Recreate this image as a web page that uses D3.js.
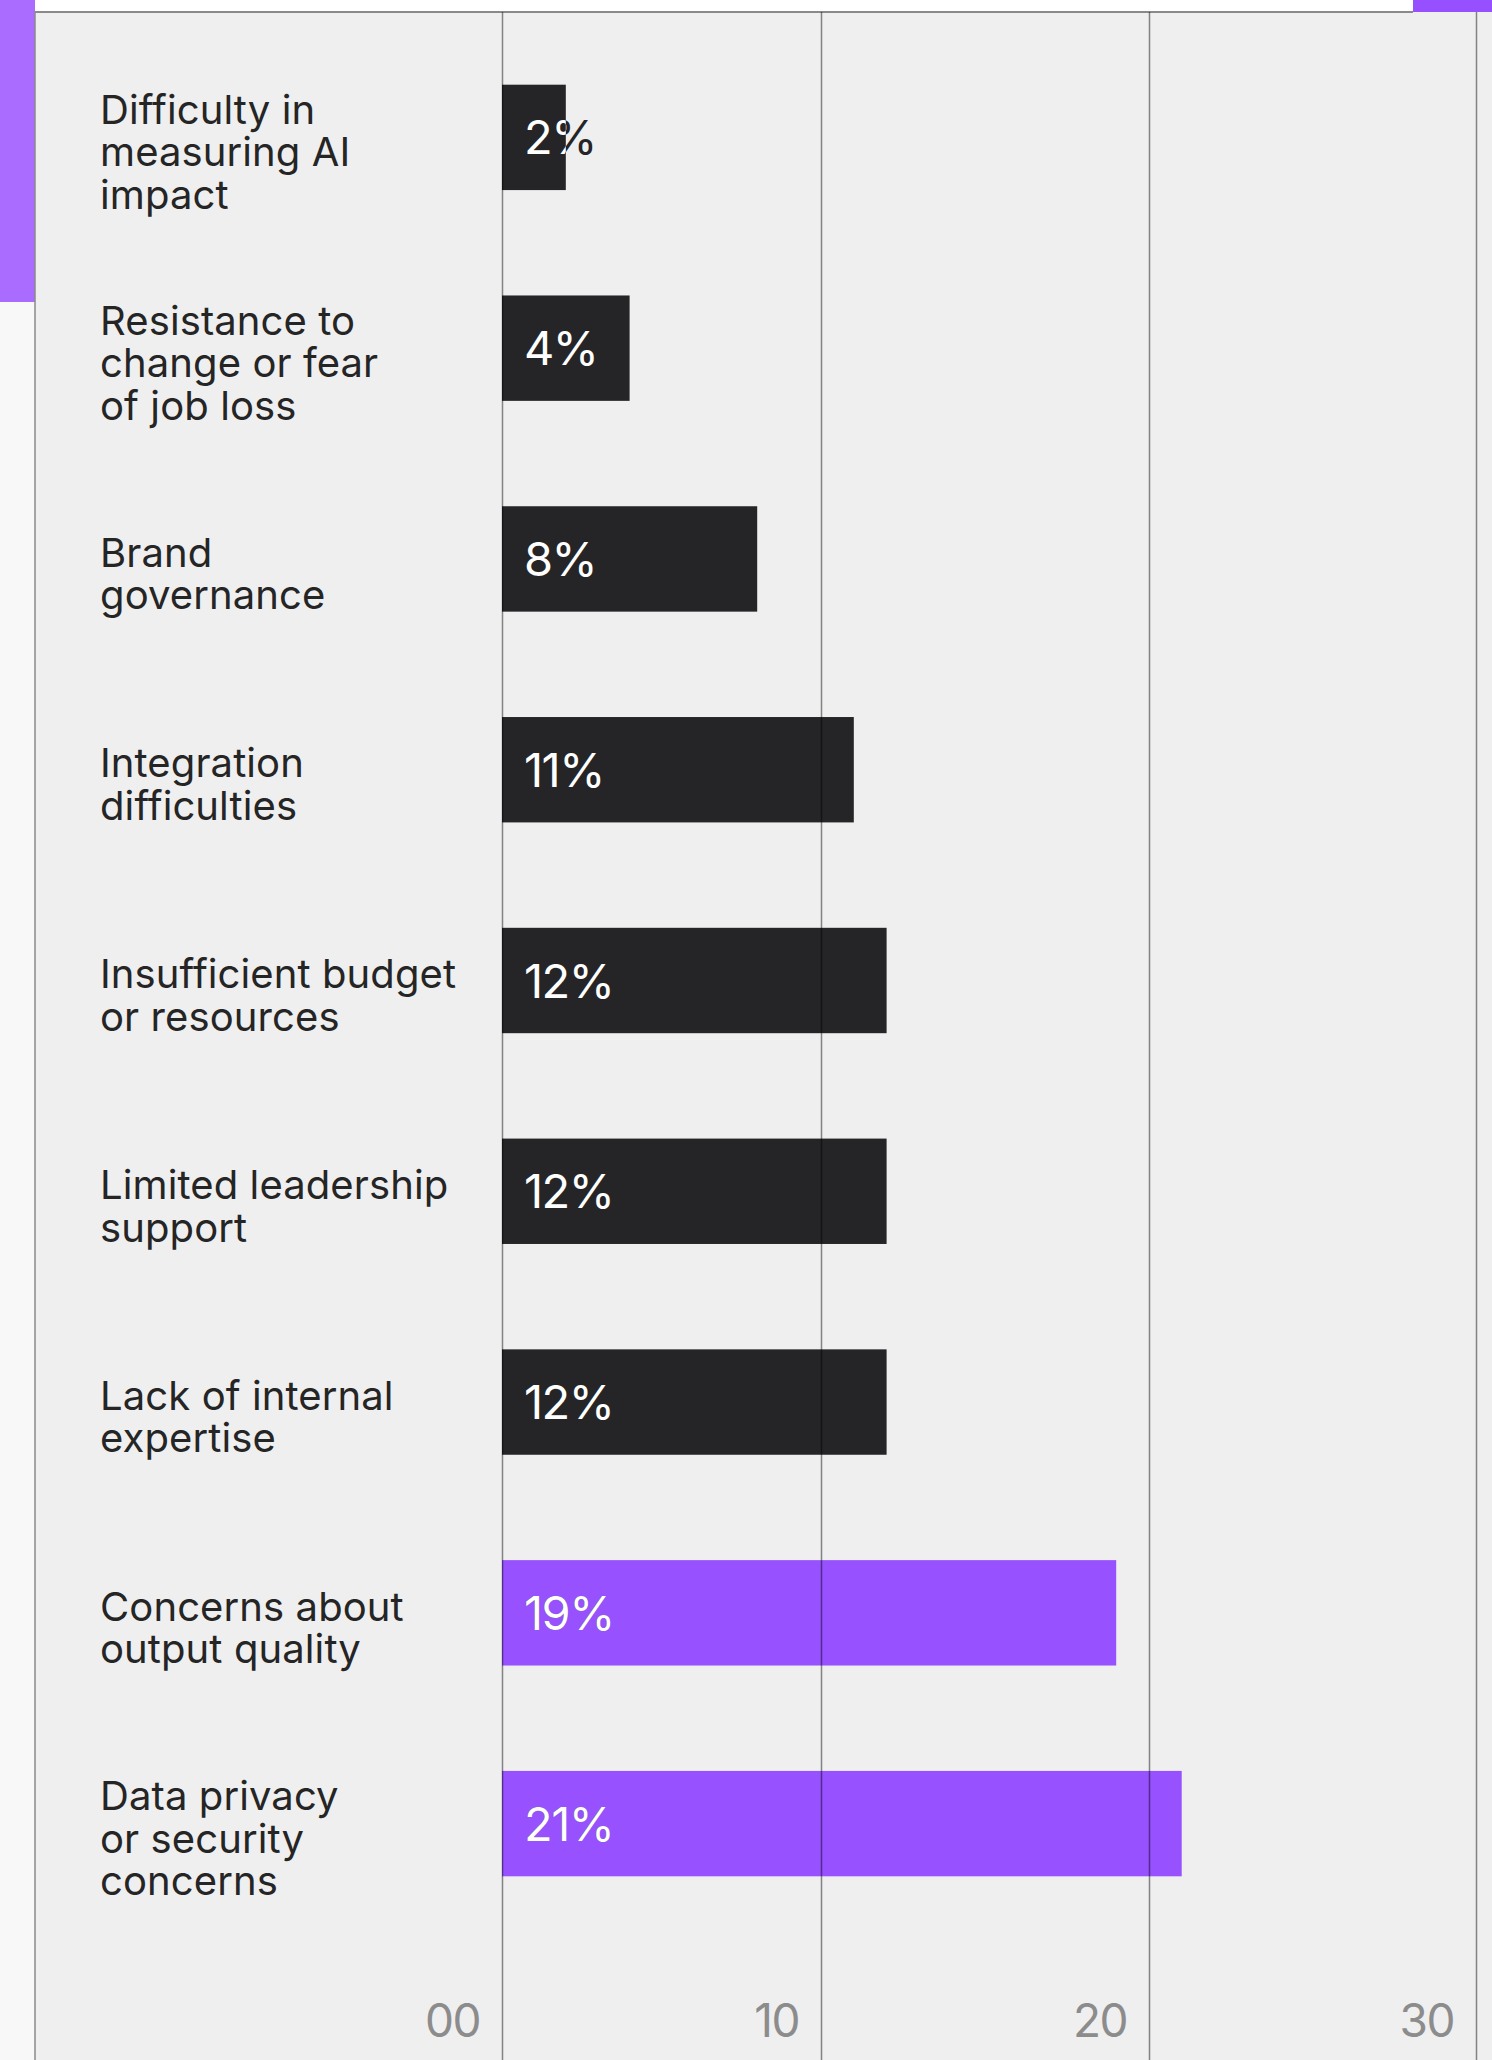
<!DOCTYPE html>
<html>
<head>
<meta charset="utf-8">
<script src="https://cdn.jsdelivr.net/npm/d3@7"></script>
<style>
  html, body { margin: 0; padding: 0; background: #f7f7f7; }
  svg { display: block; }
  text { font-family: Inter, "Noto Sans", sans-serif; }
</style>
</head>
<body>
<svg id="chart" width="1492" height="2060"></svg>
<script>
// Survey: biggest obstacles to AI adoption (share of respondents, %)
const categories = [
  "Difficulty in measuring AI impact",
  "Resistance to change or fear of job loss",
  "Brand governance",
  "Integration difficulties",
  "Insufficient budget or resources",
  "Limited leadership support",
  "Lack of internal expertise",
  "Concerns about output quality",
  "Data privacy or security concerns"
];
const labelLines = [
  ["Difficulty in", "measuring AI", "impact"],
  ["Resistance to", "change or fear", "of job loss"],
  ["Brand", "governance"],
  ["Integration", "difficulties"],
  ["Insufficient budget", "or resources"],
  ["Limited leadership", "support"],
  ["Lack of internal", "expertise"],
  ["Concerns about", "output quality"],
  ["Data privacy", "or security", "concerns"]
];
const values = [2, 4, 8, 11, 12, 12, 12, 19, 21];
const highlighted = [false, false, false, false, false, false, false, true, true];
const tickValues = [0, 10, 20, 30];
const tickLabels = ["00", "10", "20", "30"];

const W = 1492, H = 2060;
const panelLeft = 35, panelTop = 12;
const svg = d3.select("#chart");
const defs = svg.append("defs");

// piecewise-linear so each decade lands on its column line
const x = d3.scaleLinear().domain([0, 10, 20, 30]).range([502, 821, 1149, 1476]);
const y = d3.scaleBand().domain(categories).range([32, 1929]).paddingInner(0.5).paddingOuter(0.25);

// page frame: white header strip, purple accents, grey panel
svg.append("rect").attr("x", 0).attr("y", 0).attr("width", W).attr("height", H).attr("fill", "#f8f8f8");
svg.append("rect").attr("x", panelLeft).attr("y", 0).attr("width", W - panelLeft).attr("height", panelTop).attr("fill", "#ffffff");
svg.append("rect").attr("x", panelLeft).attr("y", panelTop).attr("width", W - panelLeft).attr("height", H - panelTop).attr("fill", "#efeff0");
svg.append("rect").attr("x", 0).attr("y", 0).attr("width", panelLeft).attr("height", 302).attr("fill", "#aa6cff");
svg.append("rect").attr("x", 1413).attr("y", 0).attr("width", W - 1413).attr("height", panelTop).attr("fill", "#9650ff");

// panel border
svg.append("line").attr("x1", panelLeft).attr("x2", 1413).attr("y1", panelTop).attr("y2", panelTop)
  .attr("stroke", "#8a8a8a").attr("stroke-width", 2);
svg.append("line").attr("x1", panelLeft).attr("x2", panelLeft).attr("y1", panelTop).attr("y2", H)
  .attr("stroke", "#8a8a8a").attr("stroke-width", 1.5);

// bars (each also defines a clip path for its white value label)
const barW = (i) => x(values[i]) - x(0);
defs.selectAll("clipPath").data(categories).join("clipPath")
  .attr("id", (d, i) => "bar-clip-" + i)
  .append("rect")
  .attr("x", x(0)).attr("y", d => y(d))
  .attr("width", (d, i) => barW(i)).attr("height", y.bandwidth());

svg.append("g").selectAll("rect").data(categories).join("rect")
  .attr("x", x(0))
  .attr("y", d => y(d))
  .attr("width", (d, i) => barW(i))
  .attr("height", y.bandwidth())
  .attr("fill", (d, i) => highlighted[i] ? "#9751ff" : "#252527");

// value labels: dark copy underneath shows through wherever a short bar ends,
// white copy is clipped to the bar itself
const valueLabel = (g) => g.selectAll("text").data(categories).join("text")
  .attr("x", x(0) + 22)
  .attr("y", d => y(d) + y.bandwidth() / 2 + 17)
  .attr("font-size", 47)
  .attr("letter-spacing", -1.5)
  .text((d, i) => values[i] + "%");
svg.append("g").call(valueLabel).attr("fill", "#252527");
svg.append("g").call(valueLabel).selectAll("text")
  .attr("fill", "#ffffff")
  .attr("clip-path", (d, i) => `url(#bar-clip-${i})`);

// vertical gridlines sit over the bars
const grid = d3.axisBottom(x).tickValues(tickValues).tickSize(-(H - panelTop)).tickFormat("");
svg.append("g").attr("transform", `translate(0,${H})`).call(grid)
  .call(g => g.select(".domain").remove())
  .call(g => g.selectAll(".tick line").attr("stroke", "rgba(0,0,0,0.45)").attr("stroke-width", 1.5));

// tick labels, right-aligned just left of each gridline
svg.append("g").selectAll("text").data(tickValues).join("text")
  .attr("x", d => x(d) - 22)
  .attr("y", 2037)
  .attr("text-anchor", "end")
  .attr("fill", "#8c8c8c")
  .attr("font-size", 46)
  .attr("letter-spacing", -1.5)
  .text((d, i) => tickLabels[i]);

// category labels
const lineH = 42.5;
const lab = svg.append("g").selectAll("text").data(categories).join("text")
  .attr("x", 100)
  .attr("y", (d, i) => y(d) + y.bandwidth() / 2 - (labelLines[i].length - 1) / 2 * lineH + 29)
  .attr("fill", "#252525")
  .attr("font-size", 40)
  .attr("letter-spacing", 0.1);
lab.each(function(d, i) {
  d3.select(this).selectAll("tspan").data(labelLines[i]).join("tspan")
    .attr("x", 100)
    .attr("dy", (t, j) => j === 0 ? 0 : lineH)
    .text(t => t);
});
</script>
</body>
</html>
